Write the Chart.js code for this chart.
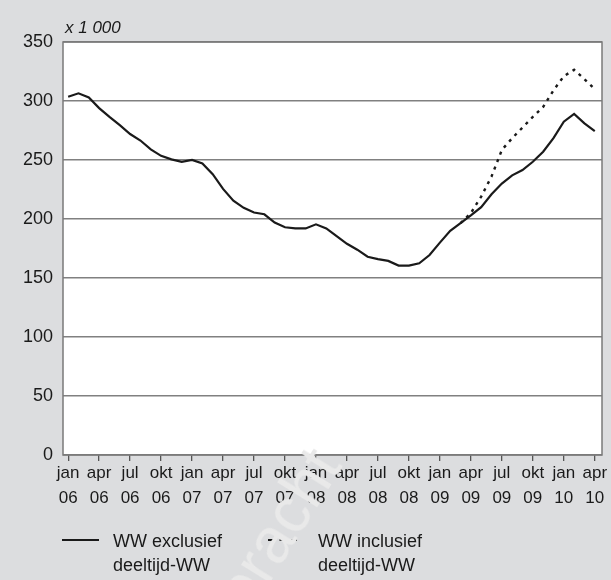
<!DOCTYPE html>
<html>
<head>
<meta charset="utf-8">
<script src="https://cdn.jsdelivr.net/npm/chart.js@4/dist/chart.umd.min.js"></script>
<style>
  html, body { margin: 0; padding: 0; background: #dcdddf; }
  #wrap { position: relative; width: 611px; height: 580px; overflow: hidden;
          font-family: "Liberation Sans", Arial, sans-serif; color: #1a1a1a; }
  #chart { position: absolute; left: 0; top: 0; }
  .unit { position: absolute; left: 65px; top: 18px; font-size: 17px; font-style: italic; }
  .leg { position: absolute; font-size: 18px; line-height: 24px; }
  .sw { position: absolute; height: 0; }
  .wm { position: absolute; left: 203px; top: 588px; font-size: 64px; line-height: 64px; color: #e9e9e9;
        transform: rotate(-58deg); transform-origin: left top; white-space: nowrap; }
</style>
</head>
<body>
<div id="wrap">
  <canvas id="chart" width="611" height="580"></canvas>
  <div class="unit">x 1 000</div>
  <div class="sw" style="left:62px;top:539px;width:37px;border-top:2px solid #1a1a1a;"></div>
  <div class="leg" style="left:113px;top:529px;">WW exclusief<br>deeltijd-WW</div>
  <div class="sw" style="left:268px;top:539px;width:29px;border-top:2px dashed #1a1a1a;"></div>
  <div class="leg" style="left:318px;top:529px;">WW inclusief<br>deeltijd-WW</div>
  <div class="wm">bracht</div>
</div>
<script>
// Maanden jan 06 t/m apr 10
const maanden = [
  'jan 06','feb 06','mrt 06','apr 06','mei 06','jun 06','jul 06','aug 06','sep 06','okt 06','nov 06','dec 06',
  'jan 07','feb 07','mrt 07','apr 07','mei 07','jun 07','jul 07','aug 07','sep 07','okt 07','nov 07','dec 07',
  'jan 08','feb 08','mrt 08','apr 08','mei 08','jun 08','jul 08','aug 08','sep 08','okt 08','nov 08','dec 08',
  'jan 09','feb 09','mrt 09','apr 09','mei 09','jun 09','jul 09','aug 09','sep 09','okt 09','nov 09','dec 09',
  'jan 10','feb 10','mrt 10','apr 10'
];

// WW exclusief deeltijd-WW (x 1 000)
const wwExclusief = [
  303.6, 306.5, 303, 294, 286.5, 279.5, 272, 266.5, 259, 253.5, 250.5, 248.5,
  250, 247, 238, 225.5, 215.5, 209.5, 205.5, 204, 197, 193, 192, 192,
  195.5, 192, 185.5, 179, 174, 168, 166, 164.5, 160.5, 160.5, 162.5, 169.5,
  180, 190, 196.5, 203, 210, 221, 230, 237, 241.5, 248.5, 257, 268.5,
  282.5, 289, 281, 274.5
];

// WW inclusief deeltijd-WW (x 1 000), alleen vanaf 2009 afwijkend
const wwInclusief = [
  null, null, null, null, null, null, null, null, null, null, null, null,
  null, null, null, null, null, null, null, null, null, null, null, null,
  null, null, null, null, null, null, null, null, null, null, null, null,
  null, null, 196.5, 205, 219, 236, 258.5, 268.5, 277.5, 286.5, 295, 309,
  321, 326.5, 318.5, 310
];

// As-labels (elke 3 maanden)
const tickIndex = [0, 3, 6, 9, 12, 15, 18, 21, 24, 27, 30, 33, 36, 39, 42, 45, 48, 51];
const tickLabels = [
  ['jan','06'],['apr','06'],['jul','06'],['okt','06'],
  ['jan','07'],['apr','07'],['jul','07'],['okt','07'],
  ['jan','08'],['apr','08'],['jul','08'],['okt','08'],
  ['jan','09'],['apr','09'],['jul','09'],['okt','09'],
  ['jan','10'],['apr','10']
];
const yTicks = [0, 50, 100, 150, 200, 250, 300, 350];

const toPoints = arr => arr.map((v, i) => ({ x: i, y: v }));

// Witte plotachtergrond en rand
const plotArea = {
  id: 'plotArea',
  beforeDraw(chart) {
    const { ctx, chartArea: a } = chart;
    ctx.save();
    ctx.fillStyle = '#ffffff';
    ctx.fillRect(a.left, a.top, a.right - a.left, a.bottom - a.top);
    ctx.restore();
  },
  afterDraw(chart) {
    const { ctx, chartArea: a } = chart;
    ctx.save();
    ctx.strokeStyle = '#7a7a7a';
    ctx.lineWidth = 1.5;
    ctx.strokeRect(a.left, a.top, a.right - a.left, a.bottom - a.top);
    ctx.restore();
  }
};

Chart.defaults.font.family = '"Liberation Sans", Arial, sans-serif';
Chart.defaults.color = '#1a1a1a';

new Chart(document.getElementById('chart').getContext('2d'), {
  type: 'line',
  data: {
    datasets: [
      {
        label: 'WW inclusief deeltijd-WW',
        data: toPoints(wwInclusief),
        borderColor: '#1a1a1a',
        borderWidth: 2.4,
        borderDash: [3, 5],
        pointRadius: 0,
        spanGaps: false
      },
      {
        label: 'WW exclusief deeltijd-WW',
        data: toPoints(wwExclusief),
        borderColor: '#1a1a1a',
        borderWidth: 2.2,
        pointRadius: 0
      }
    ]
  },
  options: {
    responsive: false,
    animation: false,
    layout: { padding: { top: 42, right: 9, left: 0, bottom: 0 } },
    plugins: { legend: { display: false }, tooltip: { enabled: false } },
    scales: {
      x: {
        type: 'linear',
        min: -0.5,
        max: 51.7,
        afterBuildTicks: axis => { axis.ticks = tickIndex.map(v => ({ value: v })); },
        afterFit: axis => { axis.height = 125; },
        border: { display: false },
        grid: { drawOnChartArea: false, drawTicks: true, tickLength: 6, color: '#555', lineWidth: 1.3 },
        ticks: {
          autoSkip: false,
          maxRotation: 0,
          padding: 0,
          font: { size: 17, lineHeight: 1.47 },
          callback: v => tickLabels[tickIndex.indexOf(v)] || ''
        }
      },
      y: {
        min: 0,
        max: 350,
        afterBuildTicks: axis => { axis.ticks = yTicks.map(v => ({ value: v })); },
        afterFit: axis => { axis.width = 63; },
        border: { display: false },
        grid: { drawTicks: false, color: '#808080', lineWidth: 1.4 },
        ticks: { padding: 10, font: { size: 18 } }
      }
    }
  },
  plugins: [plotArea]
});
</script>
</body>
</html>
